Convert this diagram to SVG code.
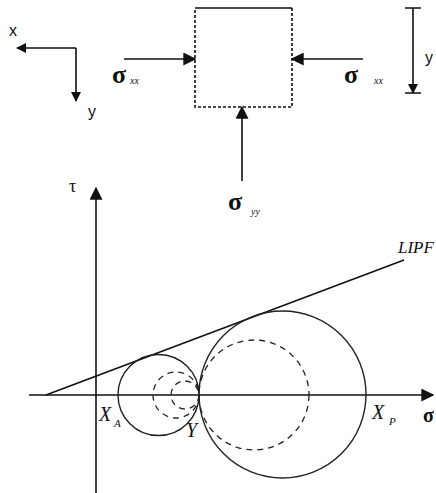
<svg xmlns="http://www.w3.org/2000/svg" width="436" height="493" viewBox="0 0 436 493">
<defs>
<style>
.ln{stroke:#111;stroke-width:1.6;fill:none}
.dash{stroke:#111;stroke-width:1.6;fill:none;stroke-dasharray:3 2}
.cdash{stroke:#222;stroke-width:1.3;fill:none;stroke-dasharray:6 5}
.circ{stroke:#222;stroke-width:1.4;fill:none}
.sans{font-family:"Liberation Sans",Arial,sans-serif;font-size:16px;fill:#111}
.sig{font-family:"Liberation Serif","Times New Roman",serif;font-size:26px;font-weight:bold;fill:#111}
.sub{font-family:"Liberation Serif","Times New Roman",serif;font-style:italic;font-size:10px;fill:#111}
.it{font-family:"Liberation Serif","Times New Roman",serif;font-style:italic;font-size:20px;fill:#111}
.its{font-family:"Liberation Serif","Times New Roman",serif;font-style:italic;font-size:11px;fill:#111}
</style>
<marker id="ah" viewBox="0 0 10 10" refX="9" refY="5" markerWidth="10" markerHeight="10" markerUnits="userSpaceOnUse" orient="auto">
<path d="M0,0 L10,5 L0,10 z" fill="#111"/>
</marker>
<marker id="ahb" viewBox="0 0 10 10" refX="9" refY="5" markerWidth="13" markerHeight="13" markerUnits="userSpaceOnUse" orient="auto">
<path d="M0,0 L10,5 L0,10 z" fill="#111"/>
</marker>
</defs>
<g id="axes-xy">
<path class="ln" d="M76,48 L17,48" marker-end="url(#ah)"/>
<path class="ln" d="M76,48 L76,101" marker-end="url(#ah)"/>
<text class="sans" x="9" y="36">x</text>
<text class="sans" x="88" y="117">y</text>
</g>
<g id="element">
<path class="ln" d="M195,8 L292,8"/>
<path class="dash" d="M292,8 L292,107 L195,107 L195,8"/>
</g>
<g id="connectors">
<path class="ln" d="M124,59 L195,59" marker-end="url(#ahb)"/>
<path class="ln" d="M363,59 L292,59" marker-end="url(#ahb)"/>
<path class="ln" d="M242,181 L242,107" marker-end="url(#ahb)"/>
<path class="ln" d="M413,8 L413,93" marker-end="url(#ah)"/>
<path class="ln" d="M405,8 L421,8 M405,93 L421,93"/>
</g>
<g id="labels-top">
<text class="sig" x="112" y="83">σ</text><text class="sub" x="130" y="84">xx</text>
<text class="sig" x="344" y="83">σ</text><text class="sub" x="374" y="84">xx</text>
<text class="sans" x="425" y="63">y</text>
<text class="sig" x="228" y="210">σ</text><text class="sub" x="251" y="215">yy</text>
</g>
<g id="plot">
<path class="ln" d="M96,493 L96,188" marker-end="url(#ahb)"/>
<path class="ln" d="M29,395 L433,395" marker-end="url(#ahb)"/>
<path class="ln" d="M46,395 L404,260"/>
<circle class="circ" cx="158.5" cy="395" r="40.5"/>
<circle class="circ" cx="282.5" cy="394.5" r="83.5"/>
<circle class="cdash" cx="254" cy="395" r="55"/>
<circle class="cdash" cx="176" cy="395" r="23"/>
<circle class="cdash" cx="185" cy="395" r="14"/>
<text class="sig" x="69" y="192" style="font-size:18px;font-weight:normal">τ</text>
<text class="it" x="398" y="253" style="font-size:17px">LIPF</text>
<text class="it" x="99" y="421">X</text><text class="its" x="114" y="427">A</text>
<text class="it" x="186" y="437">Y</text>
<text class="it" x="372" y="419">X</text><text class="its" x="389" y="425">P</text>
<text class="sig" x="423" y="422" style="font-size:20px">σ</text>
</g>
</svg>
